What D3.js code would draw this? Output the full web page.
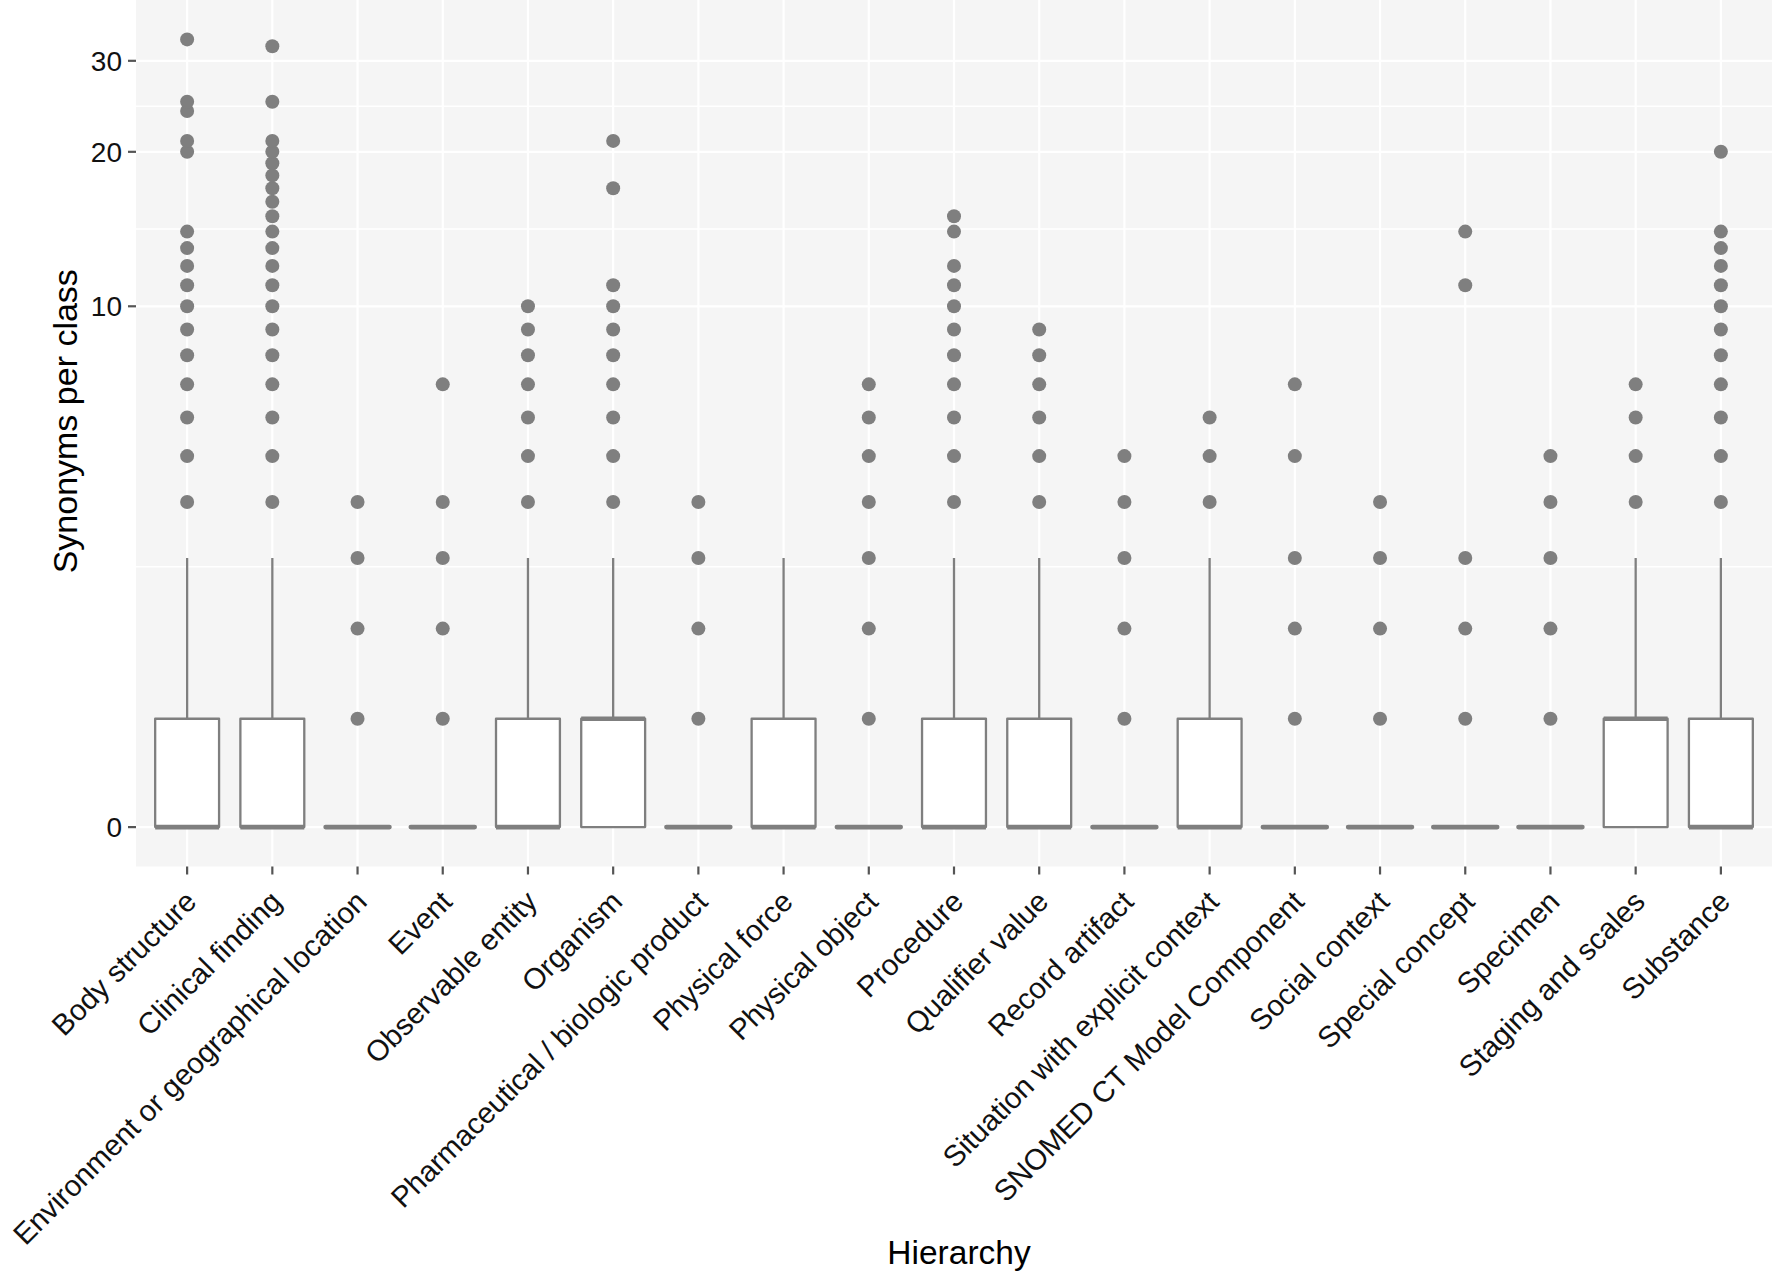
<!DOCTYPE html>
<html>
<head>
<meta charset="utf-8">
<script src="https://cdn.jsdelivr.net/npm/d3@7"></script>
<style>
  html, body { margin: 0; padding: 0; background: #ffffff; }
  svg { display: block; }
  text { font-family: "Liberation Sans", Arial, Helvetica, sans-serif; }
</style>
</head>
<body>
<script>
// ---------------- data ----------------
const categories = [
  "Body structure", "Clinical finding", "Environment or geographical location", "Event",
  "Observable entity", "Organism", "Pharmaceutical / biologic product", "Physical force",
  "Physical object", "Procedure", "Qualifier value", "Record artifact",
  "Situation with explicit context", "SNOMED CT Model Component", "Social context",
  "Special concept", "Specimen", "Staging and scales", "Substance"
];
const lowerWhisker = [0,0,0,0,0,0,0,0,0,0,0,0,0,0,0,0,0,0,0];
const q1           = [0,0,0,0,0,0,0,0,0,0,0,0,0,0,0,0,0,0,0];
const median       = [0,0,0,0,0,1,0,0,0,0,0,0,0,0,0,0,0,1,0];
const q3           = [1,1,0,0,1,1,0,1,0,1,1,0,1,0,0,0,0,1,1];
const upperWhisker = [3,3,0,0,3,3,0,3,0,3,3,0,3,0,0,0,0,3,3];
const outliers = [
  [4,5,6,7,8,9,10,11,12,13,14,20,21,24,25,33],
  [4,5,6,7,8,9,10,11,12,13,14,15,16,17,18,19,20,21,25,32],
  [1,2,3,4],
  [1,2,3,4,7],
  [4,5,6,7,8,9,10],
  [4,5,6,7,8,9,10,11,17,21],
  [1,2,3,4],
  [],
  [1,2,3,4,5,6,7],
  [4,5,6,7,8,9,10,11,12,14,15],
  [4,5,6,7,8,9],
  [1,2,3,4,5],
  [4,5,6],
  [1,2,3,5,7],
  [1,2,3,4],
  [1,2,3,11,14],
  [1,2,3,4,5],
  [4,5,6,7],
  [4,5,6,7,8,9,10,11,12,13,14,20]
];
const yTicks = [0, 10, 20, 30];
const yTitle = "Synonyms per class";
const xTitle = "Hierarchy";

// ---------------- layout ----------------
const W = 1773, H = 1274;
const panel = { left: 136, right: 1772, top: 0, bottom: 866.5 };
const boxColor = "#7f7f7f";

const svg = d3.select("body").append("svg").attr("width", W).attr("height", H);
svg.append("rect").attr("width", W).attr("height", H).attr("fill", "#ffffff");

// pseudo-log transform (sigma = 1): asinh(v/2)
const tr = v => Math.asinh(v / 2);
const maxVal = d3.max(outliers.flat().concat(upperWhisker));
const tMin = 0, tMax = tr(maxVal);
const ex = 0.05 * (tMax - tMin);
const yLin = d3.scaleLinear().domain([tMin - ex, tMax + ex]).range([panel.bottom, panel.top]);
const y = v => yLin(tr(v));

const x = d3.scalePoint().domain(categories).range([panel.left, panel.right]).padding(0.6);
const step = x.step();
const bw = step * 0.75;

// panel background
svg.append("rect")
  .attr("x", panel.left).attr("y", panel.top)
  .attr("width", panel.right - panel.left).attr("height", panel.bottom - panel.top)
  .attr("fill", "#f5f5f5");

const grid = svg.append("g");
// minor horizontal grid (midpoints in transformed space)
const minor = [];
for (let i = 0; i < yTicks.length - 1; i++) {
  minor.push((tr(yTicks[i]) + tr(yTicks[i + 1])) / 2);
}
grid.selectAll(".minor").data(minor).join("line")
  .attr("x1", panel.left).attr("x2", panel.right)
  .attr("y1", d => yLin(d)).attr("y2", d => yLin(d))
  .attr("stroke", "#ffffff").attr("stroke-width", 1.4);
grid.selectAll(".majorY").data(yTicks).join("line")
  .attr("x1", panel.left).attr("x2", panel.right)
  .attr("y1", d => y(d)).attr("y2", d => y(d))
  .attr("stroke", "#ffffff").attr("stroke-width", 2.2);
grid.selectAll(".majorX").data(categories).join("line")
  .attr("x1", d => x(d)).attr("x2", d => x(d))
  .attr("y1", panel.top).attr("y2", panel.bottom)
  .attr("stroke", "#ffffff").attr("stroke-width", 2.2);

// boxplots
const rows = categories.map((c, i) => ({
  c, lo: lowerWhisker[i], q1: q1[i], med: median[i], q3: q3[i], hi: upperWhisker[i], out: outliers[i]
}));

const g = svg.append("g");
// whiskers
g.selectAll(".wh").data(rows.filter(d => d.hi > d.q3)).join("line")
  .attr("x1", d => x(d.c)).attr("x2", d => x(d.c))
  .attr("y1", d => y(d.q3)).attr("y2", d => y(d.hi))
  .attr("stroke", boxColor).attr("stroke-width", 2.3);
g.selectAll(".wl").data(rows.filter(d => d.lo < d.q1)).join("line")
  .attr("x1", d => x(d.c)).attr("x2", d => x(d.c))
  .attr("y1", d => y(d.q1)).attr("y2", d => y(d.lo))
  .attr("stroke", boxColor).attr("stroke-width", 2.3);
// boxes
g.selectAll(".box").data(rows).join("rect")
  .attr("x", d => x(d.c) - bw / 2).attr("width", bw)
  .attr("y", d => y(d.q3)).attr("height", d => y(d.q1) - y(d.q3))
  .attr("fill", "#ffffff").attr("stroke", boxColor).attr("stroke-width", 2.3)
  .attr("stroke-linejoin", "round");
// medians
g.selectAll(".med").data(rows).join("line")
  .attr("x1", d => x(d.c) - bw / 2).attr("x2", d => x(d.c) + bw / 2)
  .attr("y1", d => y(d.med)).attr("y2", d => y(d.med))
  .attr("stroke", boxColor).attr("stroke-width", 4.6)
  .attr("stroke-linecap", d => (d.q1 === d.q3 ? "round" : "butt"));
// outliers
const pts = rows.flatMap(d => d.out.map(v => ({ c: d.c, v })));
g.selectAll(".pt").data(pts).join("circle")
  .attr("cx", d => x(d.c)).attr("cy", d => y(d.v)).attr("r", 7)
  .attr("fill", boxColor);

// y axis
const yAxis = svg.append("g");
yAxis.selectAll(".tk").data(yTicks).join("line")
  .attr("x1", panel.left - 8).attr("x2", panel.left)
  .attr("y1", d => y(d)).attr("y2", d => y(d))
  .attr("stroke", "#555555").attr("stroke-width", 2.2);
yAxis.selectAll(".tl").data(yTicks).join("text")
  .attr("x", panel.left - 14).attr("y", d => y(d)).attr("dy", "0.36em")
  .attr("text-anchor", "end").attr("font-size", 28).attr("fill", "#111111")
  .text(d => d);

// x axis
const xAxis = svg.append("g");
xAxis.selectAll(".tk").data(categories).join("line")
  .attr("x1", d => x(d)).attr("x2", d => x(d))
  .attr("y1", panel.bottom).attr("y2", panel.bottom + 8)
  .attr("stroke", "#555555").attr("stroke-width", 2.2);
xAxis.selectAll(".tl").data(categories).join("text")
  .attr("transform", d => `translate(${x(d) - 4},${panel.bottom + 22}) rotate(-45)`)
  .attr("dy", "0.72em")
  .attr("text-anchor", "end").attr("font-size", 29.4).attr("fill", "#111111")
  .text(d => d);

// titles
svg.append("text")
  .attr("transform", `translate(77,${(panel.top + panel.bottom) / 2 - 12}) rotate(-90)`)
  .attr("text-anchor", "middle").attr("font-size", 34).attr("fill", "#000000")
  .text(yTitle);
svg.append("text")
  .attr("x", (panel.left + panel.right) / 2 + 5).attr("y", 1264)
  .attr("text-anchor", "middle").attr("font-size", 33.5).attr("fill", "#000000")
  .text(xTitle);
</script>
</body>
</html>
